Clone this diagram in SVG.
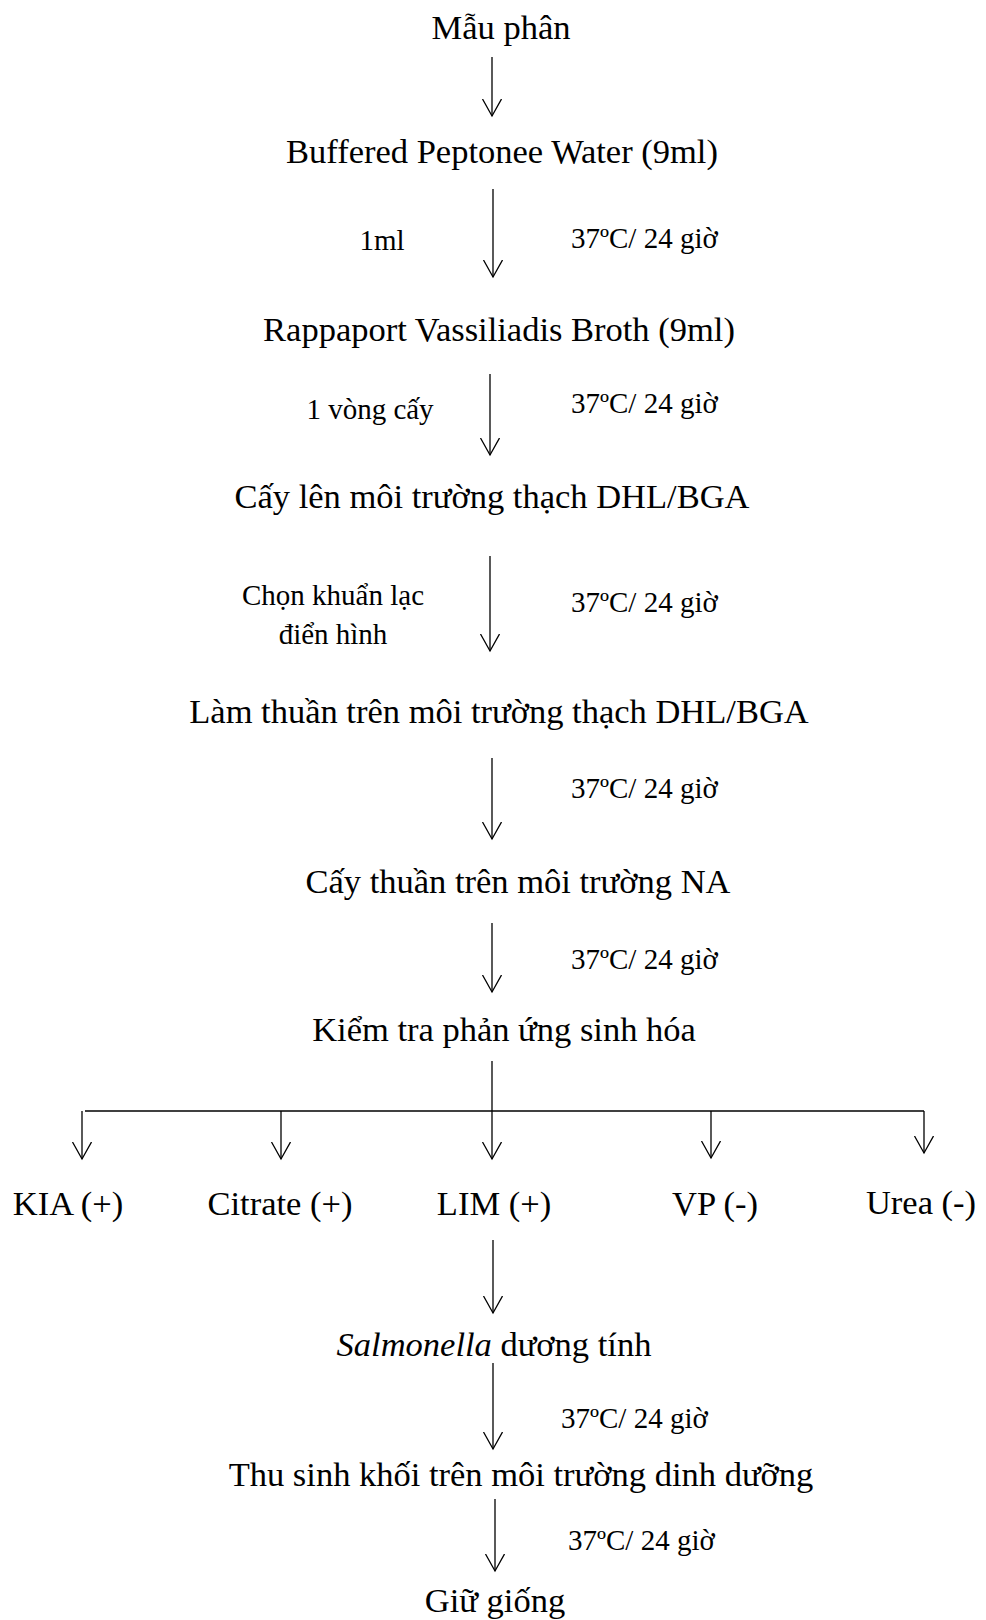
<svg xmlns="http://www.w3.org/2000/svg" width="986" height="1620" viewBox="0 0 986 1620">
<style>
text{font-family:"Liberation Serif","Times New Roman",serif;fill:#000}
.m{font-size:34.5px;text-anchor:middle}
.s{font-size:29px}
.sc{font-size:29px;text-anchor:middle}
.c{stroke:#000;stroke-width:1.3;fill:none}
.a{marker-end:url(#ah)}
</style>
<defs>
<marker id="ah" markerUnits="userSpaceOnUse" markerWidth="20" markerHeight="22" refX="17" refY="10" orient="auto" viewBox="0 0 20 22">
<path d="M0,0.5 L17,10 L0,19.5" fill="none" stroke="#000" stroke-width="1.3"/>
</marker>
</defs>
<rect width="986" height="1620" fill="#fff"/>
<g id="connectors">
<line class="c a" x1="492" y1="57" x2="492" y2="116"/>
<line class="c a" x1="493" y1="189" x2="493" y2="277"/>
<line class="c a" x1="490" y1="374" x2="490" y2="455"/>
<line class="c a" x1="490" y1="556" x2="490" y2="651"/>
<line class="c a" x1="492" y1="758" x2="492" y2="839"/>
<line class="c a" x1="492" y1="923" x2="492" y2="992"/>
<line class="c" x1="492" y1="1061" x2="492" y2="1111"/>
<line class="c" x1="85" y1="1111" x2="924" y2="1111"/>
<line class="c a" x1="82" y1="1111" x2="82" y2="1159"/>
<line class="c a" x1="281" y1="1111" x2="281" y2="1159"/>
<line class="c a" x1="492" y1="1111" x2="492" y2="1159"/>
<line class="c a" x1="711" y1="1111" x2="711" y2="1158"/>
<line class="c a" x1="924" y1="1111" x2="924" y2="1153"/>
<line class="c a" x1="493" y1="1240" x2="493" y2="1313"/>
<line class="c a" x1="493" y1="1363" x2="493" y2="1449"/>
<line class="c a" x1="495" y1="1499" x2="495" y2="1571"/>
</g>
<g id="n1"><text class="m" x="501" y="39">Mẫu phân</text></g>
<g id="n2"><text class="m" x="502" y="163">Buffered Peptonee Water (9ml)</text></g>
<g id="l2"><text class="sc" x="382" y="250">1ml</text><text class="s" x="571" y="248">37ºC/ 24 giờ</text></g>
<g id="n3"><text class="m" x="499" y="341">Rappaport Vassiliadis Broth (9ml)</text></g>
<g id="l3"><text class="sc" x="370" y="419">1 vòng cấy</text><text class="s" x="571" y="413">37ºC/ 24 giờ</text></g>
<g id="n4"><text class="m" x="492" y="508">Cấy lên môi trường thạch DHL/BGA</text></g>
<g id="l4"><text class="sc" x="333" y="605">Chọn khuẩn lạc</text><text class="sc" x="333" y="644">điển hình</text><text class="s" x="571" y="612">37ºC/ 24 giờ</text></g>
<g id="n5"><text class="m" x="499" y="723">Làm thuần trên môi trường thạch DHL/BGA</text></g>
<g id="l5"><text class="s" x="571" y="798">37ºC/ 24 giờ</text></g>
<g id="n6"><text class="m" x="518" y="893">Cấy thuần trên môi trường NA</text></g>
<g id="l6"><text class="s" x="571" y="969">37ºC/ 24 giờ</text></g>
<g id="n7"><text class="m" x="504" y="1041">Kiểm tra phản ứng sinh hóa</text></g>
<g id="b1"><text class="m" x="68" y="1215">KIA (+)</text></g>
<g id="b2"><text class="m" x="280" y="1215">Citrate (+)</text></g>
<g id="b3"><text class="m" x="494" y="1215">LIM (+)</text></g>
<g id="b4"><text class="m" x="715" y="1215">VP (-)</text></g>
<g id="b5"><text class="m" x="921" y="1214">Urea (-)</text></g>
<g id="n8"><text class="m" x="494" y="1356"><tspan font-style="italic">Salmonella</tspan> dương tính</text></g>
<g id="l8"><text class="s" x="561" y="1428">37ºC/ 24 giờ</text></g>
<g id="n9"><text class="m" x="521" y="1486">Thu sinh khối trên môi trường dinh dưỡng</text></g>
<g id="l9"><text class="s" x="568" y="1550">37ºC/ 24 giờ</text></g>
<g id="n10"><text class="m" x="495" y="1612">Giữ giống</text></g>
</svg>
